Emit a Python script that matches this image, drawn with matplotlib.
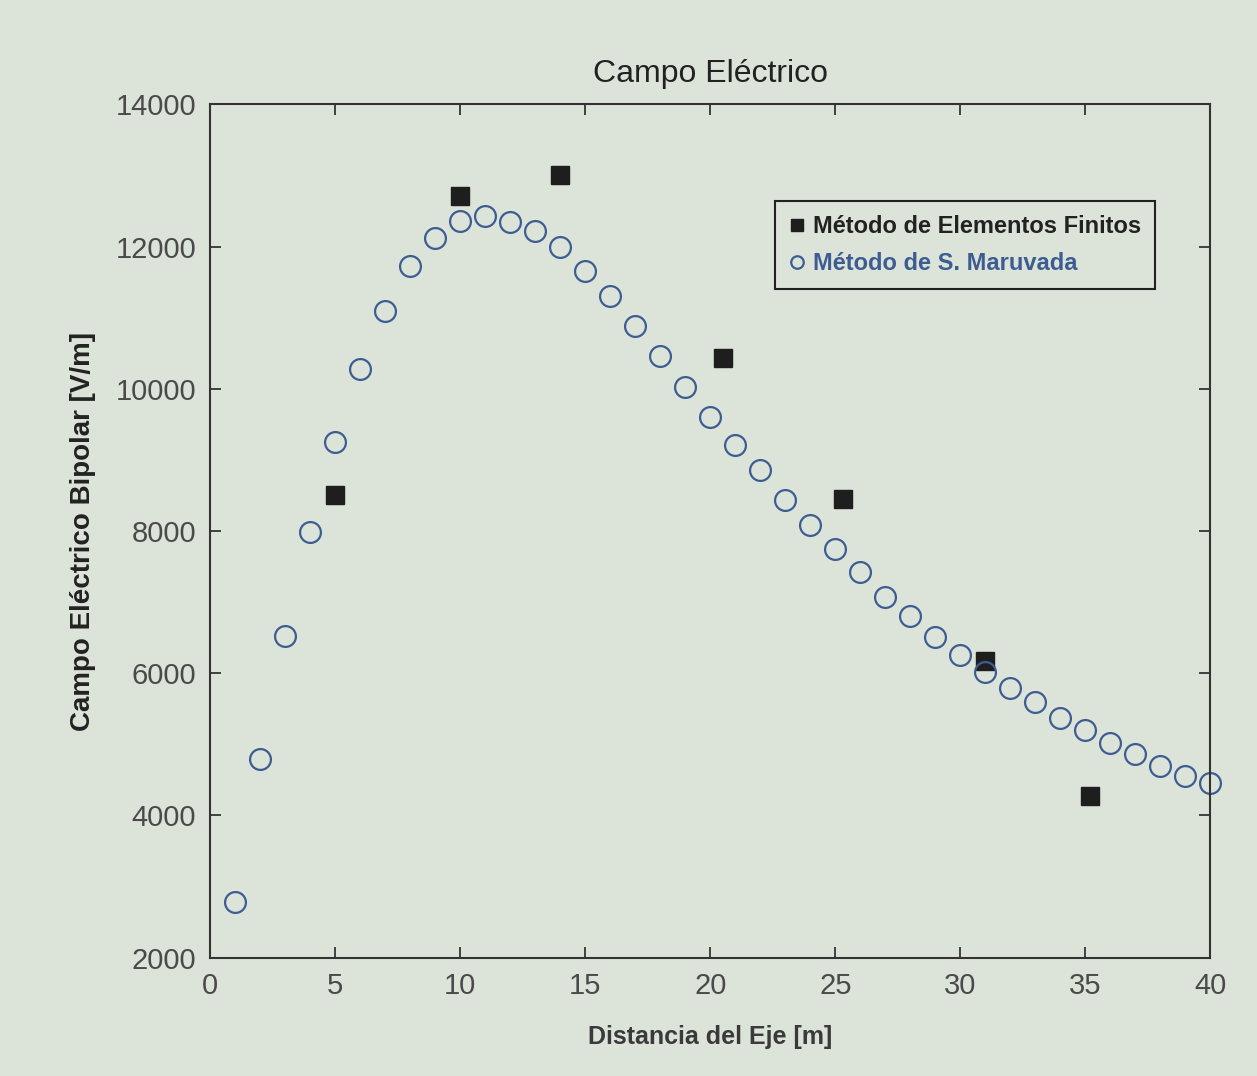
import numpy as np
import matplotlib
matplotlib.use("Agg")
import matplotlib.pyplot as plt

# Método de S. Maruvada: campo cada metro desde el eje
dist_maruvada = np.arange(1, 41)
campo_maruvada = [2780, 4800, 6520, 7990, 9250, 10280, 11100, 11720, 12120, 12360,
                  12430, 12350, 12220, 11990, 11650, 11310, 10880, 10465, 10030, 9600,
                  9210, 8860, 8440, 8090, 7750, 7420, 7070, 6800, 6510, 6260,
                  6020, 5790, 5590, 5370, 5200, 5020, 4870, 4700, 4550, 4460]

# Método de Elementos Finitos
dist_mef = [5, 10, 14, 20.5, 25.3, 31, 35.2]
campo_mef = [8500, 12710, 13010, 10435, 8450, 6170, 4275]

fondo = '#dce3d9'
azul = '#3d5d92'
gris = '#4a4a4a'

plt.rcParams['font.family'] = ['Liberation Sans', 'DejaVu Sans']

fig = plt.figure(figsize=(12.57, 10.76), dpi=100, facecolor=fondo)
ax = fig.add_axes([0.167, 0.11, 0.796, 0.793], facecolor=fondo)

ax.plot(dist_mef, campo_mef, linestyle='none', marker='s', markersize=13,
        color='#1e1e1e', label='Método de Elementos Finitos', clip_on=False)
ax.plot(dist_maruvada, campo_maruvada, linestyle='none', marker='o', markersize=15,
        markerfacecolor='none', markeredgecolor=azul, markeredgewidth=1.6,
        label='Método de S. Maruvada', clip_on=False)

ax.set_xlim(0, 40)
ax.set_ylim(2000, 14000)
ax.set_xticks(np.arange(0, 41, 5))
ax.set_yticks(np.arange(2000, 14001, 2000))

ax.tick_params(direction='in', length=8, width=1.3, top=True, right=True,
               labelsize=21, labelcolor=gris, colors='#333333', pad=10)
for lab in ax.get_xticklabels() + ax.get_yticklabels():
    lab.set_color(gris)
for s in ax.spines.values():
    s.set_linewidth(1.5)
    s.set_color('#333333')

ax.set_title('Campo Eléctrico', fontsize=23, color='#222222', pad=16)
ax.set_xlabel('Distancia del Eje [m]', fontsize=18, fontweight='bold',
              color='#3a3a3a', labelpad=18)
ax.set_ylabel('Campo Eléctrico Bipolar [V/m]', fontsize=20, fontweight='bold',
              color='#222222', labelpad=14)

leg = ax.legend(loc='upper right', bbox_to_anchor=(0.945, 0.887), fontsize=17,
                frameon=True, fancybox=False, borderpad=0.6, handlelength=0.6,
                handletextpad=0.4, labelspacing=0.6, borderaxespad=0)
leg.get_frame().set_edgecolor('#222222')
leg.get_frame().set_linewidth(1.5)
leg.get_frame().set_facecolor(fondo)
leg.get_frame().set_alpha(1)
colores = ['#222222', azul]
for txt, c in zip(leg.get_texts(), colores):
    txt.set_fontweight('bold')
    txt.set_color(c)
for h in leg.legend_handles:
    h.set_markersize(9)

fig.savefig('out.png', dpi=100, facecolor=fondo)
